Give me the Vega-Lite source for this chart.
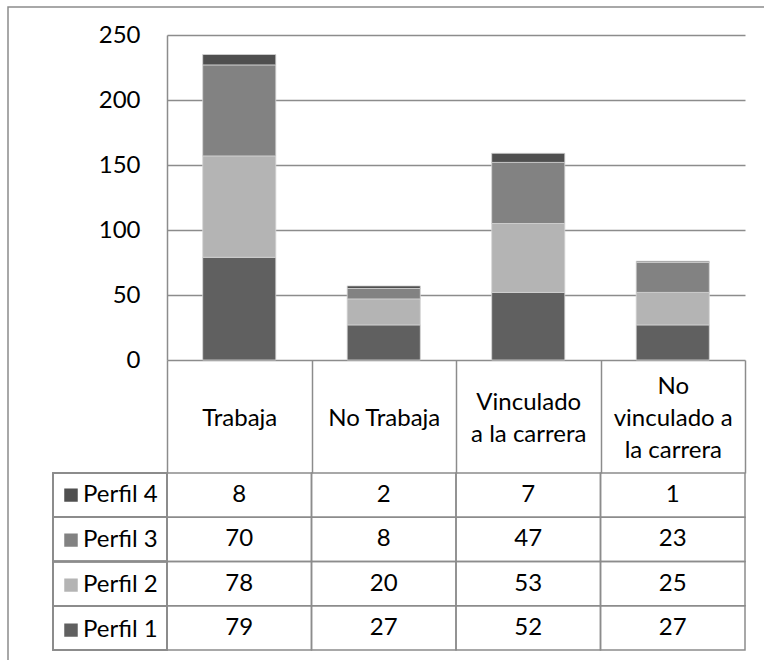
{
  "$schema": "https://vega.github.io/schema/vega-lite/v6.json",
  "width": 757,
  "height": 654,
  "autosize": {"type": "none"},
  "padding": {"left": 8, "top": 7, "right": -1, "bottom": -1},
  "background": "white",
  "config": {
    "font": "Lato",
    "view": {"stroke": "#8c8c8c", "strokeWidth": 1.5},
    "axis": {"labelFont": "Lato", "labelFontSize": 24, "labelColor": "#000000", "title": null}
  },
  "data": {
    "values": [
      {"grupo": "Trabaja", "perfil": "Perfil 1", "n": 79},
      {"grupo": "Trabaja", "perfil": "Perfil 2", "n": 78},
      {"grupo": "Trabaja", "perfil": "Perfil 3", "n": 70},
      {"grupo": "Trabaja", "perfil": "Perfil 4", "n": 8},
      {"grupo": "No Trabaja", "perfil": "Perfil 1", "n": 27},
      {"grupo": "No Trabaja", "perfil": "Perfil 2", "n": 20},
      {"grupo": "No Trabaja", "perfil": "Perfil 3", "n": 8},
      {"grupo": "No Trabaja", "perfil": "Perfil 4", "n": 2},
      {"grupo": "Vinculado a la carrera", "perfil": "Perfil 1", "n": 52},
      {"grupo": "Vinculado a la carrera", "perfil": "Perfil 2", "n": 53},
      {"grupo": "Vinculado a la carrera", "perfil": "Perfil 3", "n": 47},
      {"grupo": "Vinculado a la carrera", "perfil": "Perfil 4", "n": 7},
      {"grupo": "No vinculado a la carrera", "perfil": "Perfil 1", "n": 27},
      {"grupo": "No vinculado a la carrera", "perfil": "Perfil 2", "n": 25},
      {"grupo": "No vinculado a la carrera", "perfil": "Perfil 3", "n": 23},
      {"grupo": "No vinculado a la carrera", "perfil": "Perfil 4", "n": 1}
    ]
  },
  "resolve": {"scale": {"x": "independent", "y": "independent"}},
  "layer": [
    {
      "mark": {"type": "bar", "stroke": "#d4d4d4", "strokeWidth": 0.8},
      "encoding": {
        "x": {
          "field": "grupo", "type": "nominal",
          "sort": ["Trabaja", "No Trabaja", "Vinculado a la carrera", "No vinculado a la carrera"],
          "scale": {"range": [159, 737], "paddingInner": 0.494, "paddingOuter": 0.247},
          "axis": null
        },
        "y": {
          "field": "n", "type": "quantitative", "stack": "zero",
          "scale": {"domain": [0, 250], "range": [353, 28], "nice": false},
          "axis": {
            "orient": "left", "offset": -159,
            "values": [0, 50, 100, 150, 200, 250],
            "ticks": false, "domain": true, "domainColor": "#8c8c8c", "domainWidth": 1.5,
            "grid": true, "gridColor": "#8c8c8c", "gridWidth": 1.5,
            "labelPadding": 27, "labelFontSize": 24
          }
        },
        "color": {
          "field": "perfil", "type": "nominal",
          "scale": {
            "domain": ["Perfil 4", "Perfil 3", "Perfil 2", "Perfil 1"],
            "range": ["#4f4f4f", "#828282", "#b4b4b4", "#606060"]
          },
          "legend": {
            "orient": "none", "legendX": 51, "legendY": 466,
            "title": null, "symbolType": "square", "symbolSize": 182,
            "symbolStrokeWidth": 0, "symbolOpacity": 1,
            "labelFont": "Lato", "labelFontSize": 24, "labelColor": "#000000",
            "labelOffset": 0, "clipHeight": 44.25, "rowPadding": 0, "padding": 0,
            "labelBaseline": "middle"
          }
        },
        "order": {"field": "perfil", "sort": "ascending"}
      }
    },
    {
      "mark": {"type": "rect", "fillOpacity": 0, "stroke": "#8c8c8c", "strokeWidth": 1.5},
      "encoding": {
        "x": {
          "field": "grupo", "type": "nominal",
          "sort": ["Trabaja", "No Trabaja", "Vinculado a la carrera", "No vinculado a la carrera"],
          "scale": {"type": "band", "range": [159, 737], "padding": 0},
          "axis": {
            "orient": "bottom", "offset": -301,
            "tickBand": "extent", "tickSize": 113, "tickColor": "#8c8c8c", "tickWidth": 1.5,
            "domain": false, "labelAngle": 0,
            "labelPadding": {
              "condition": [
                {"test": "datum.value === 'No vinculado a la carrera'", "value": -87},
                {"test": "datum.value === 'Vinculado a la carrera'", "value": -71}
              ],
              "value": -55
            },
            "labelBaseline": "middle", "labelLineHeight": 32, "labelFontSize": 24,
            "labelOverlap": false, "labelBound": false,
            "labelExpr": "datum.value == 'Vinculado a la carrera' ? ['Vinculado', 'a la carrera'] : datum.value == 'No vinculado a la carrera' ? ['No', 'vinculado a', 'la carrera'] : datum.label"
          }
        },
        "y": {
          "field": "perfil", "type": "nominal",
          "scale": {"type": "band", "domain": ["Perfil 4", "Perfil 3", "Perfil 2", "Perfil 1"], "range": [466, 643], "padding": 0},
          "axis": null
        }
      }
    },
    {
      "mark": {"type": "text", "fontSize": 24, "color": "#000000", "baseline": "middle", "align": "center"},
      "encoding": {
        "x": {
          "field": "grupo", "type": "nominal",
          "sort": ["Trabaja", "No Trabaja", "Vinculado a la carrera", "No vinculado a la carrera"],
          "scale": {"type": "band", "range": [159, 737], "padding": 0},
          "bandPosition": 0.5,
          "axis": null
        },
        "y": {
          "field": "perfil", "type": "nominal",
          "scale": {"type": "band", "domain": ["Perfil 4", "Perfil 3", "Perfil 2", "Perfil 1"], "range": [466, 643], "padding": 0},
          "bandPosition": 0.5,
          "axis": null
        },
        "text": {"field": "n", "type": "quantitative"}
      }
    },
    {
      "mark": {"type": "rect", "fillOpacity": 0, "stroke": "#8c8c8c", "strokeWidth": 1.5},
      "encoding": {
        "x": {
          "datum": "Serie", "type": "nominal",
          "scale": {"type": "band", "range": [45, 159], "padding": 0},
          "axis": null
        },
        "y": {
          "field": "perfil", "type": "nominal",
          "scale": {"type": "band", "domain": ["Perfil 4", "Perfil 3", "Perfil 2", "Perfil 1"], "range": [466, 643], "padding": 0},
          "axis": null
        }
      }
    }
  ]
}
